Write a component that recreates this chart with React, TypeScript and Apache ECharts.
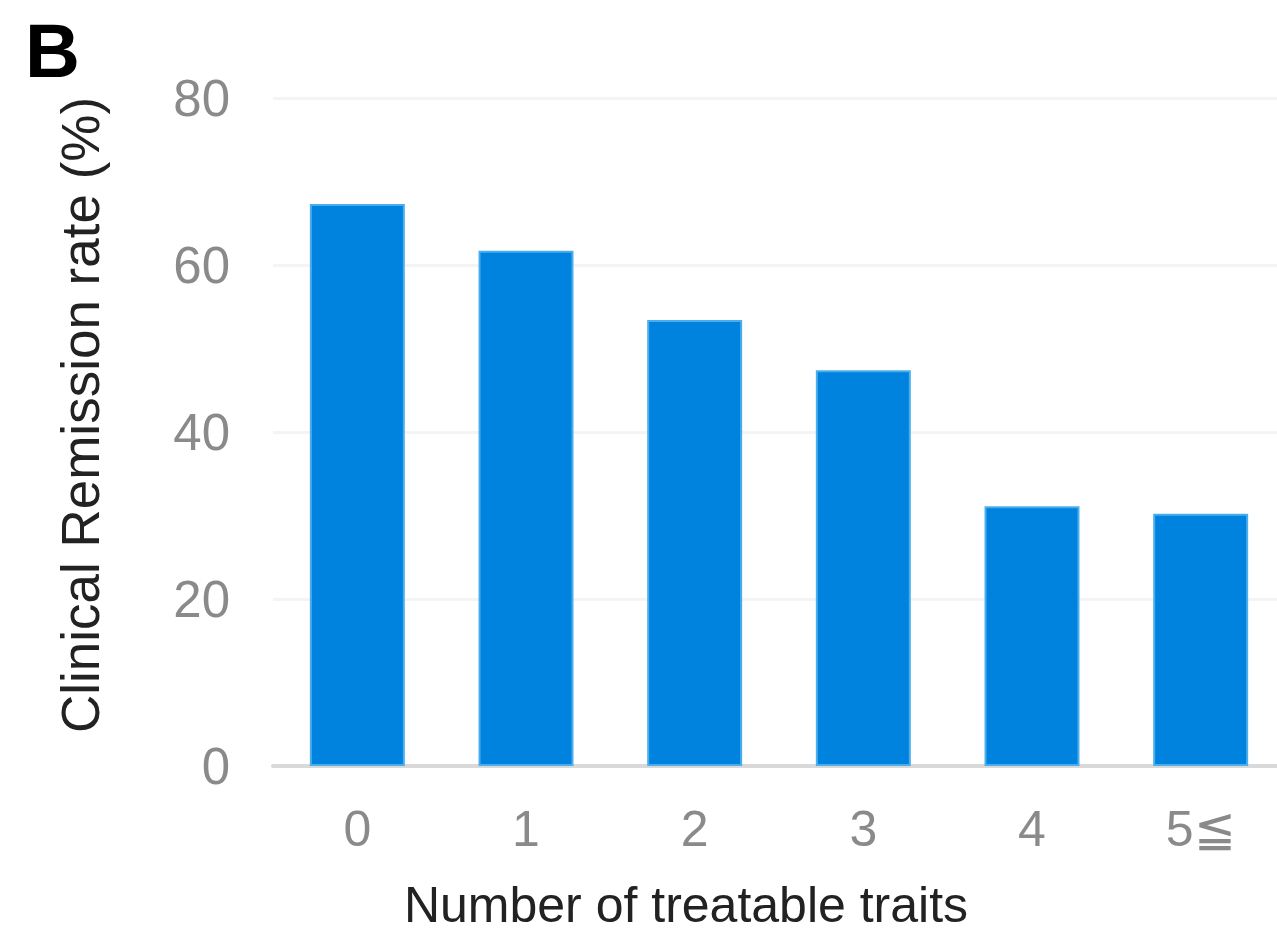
import React, { useEffect, useRef } from "react";
import * as echarts from "echarts";

const categories = ["0", "1", "2", "3", "4", "5≦"];
const remissionRates = [67.3, 61.7, 53.4, 47.4, 31.1, 30.2];
const yTicks = { min: 0, max: 80, interval: 20 };
const panelLabel = "B";
const xTitle = "Number of treatable traits";
const yTitle = "Clinical Remission rate (%)";

const FONT = "'Liberation Sans', Arial, sans-serif";

export default function App() {
  const ref = useRef<HTMLDivElement>(null);
  useEffect(() => {
    if (!ref.current) return;
    const chart = echarts.init(ref.current, undefined, { renderer: "svg" });
    chart.setOption({
      animation: false,
      backgroundColor: "#ffffff",
      grid: { left: 273, top: 98, width: 1012, height: 668, containLabel: false },
      xAxis: {
        type: "category",
        data: categories,
        axisLine: { lineStyle: { color: "#d9d9d9", width: 4 } },
        axisTick: { show: false },
        axisLabel: { color: "#8a8a8a", fontSize: 50, fontFamily: FONT, margin: 38 },
      },
      yAxis: {
        type: "value",
        min: yTicks.min,
        max: yTicks.max,
        interval: yTicks.interval,
        axisLine: { show: false },
        axisTick: { show: false },
        axisLabel: { color: "#8a8a8a", fontSize: 51, fontFamily: FONT, margin: 43 },
        splitLine: { lineStyle: { color: "#f4f4f4", width: 3 } },
      },
      series: [
        {
          type: "bar",
          data: remissionRates,
          barWidth: "56.3%",
          itemStyle: { color: "#0082df", borderColor: "#4aaeee", borderWidth: 2 },
        },
      ],
      graphic: [
        {
          type: "text",
          left: 25,
          top: 12,
          style: { text: panelLabel, fontSize: 76, fontWeight: "bold", fill: "#000", fontFamily: FONT },
        },
        {
          type: "text",
          x: 686,
          y: 905,
          style: {
            text: xTitle,
            fontSize: 50,
            lineHeight: 50,
            fill: "#222",
            fontFamily: FONT,
            align: "center",
            verticalAlign: "middle",
          },
        },
        {
          type: "text",
          x: 80,
          y: 415,
          rotation: Math.PI / 2,
          style: {
            text: yTitle,
            fontSize: 53,
            fill: "#222",
            fontFamily: FONT,
            align: "center",
            verticalAlign: "middle",
          },
        },
      ],
    });
    return () => chart.dispose();
  }, []);
  return (
    <div style={{ position: "fixed", left: 0, top: 0, width: 1277, height: 936, overflow: "hidden", background: "#fff" }}>
      <div ref={ref} style={{ width: 1290, height: 936 }} />
    </div>
  );
}
